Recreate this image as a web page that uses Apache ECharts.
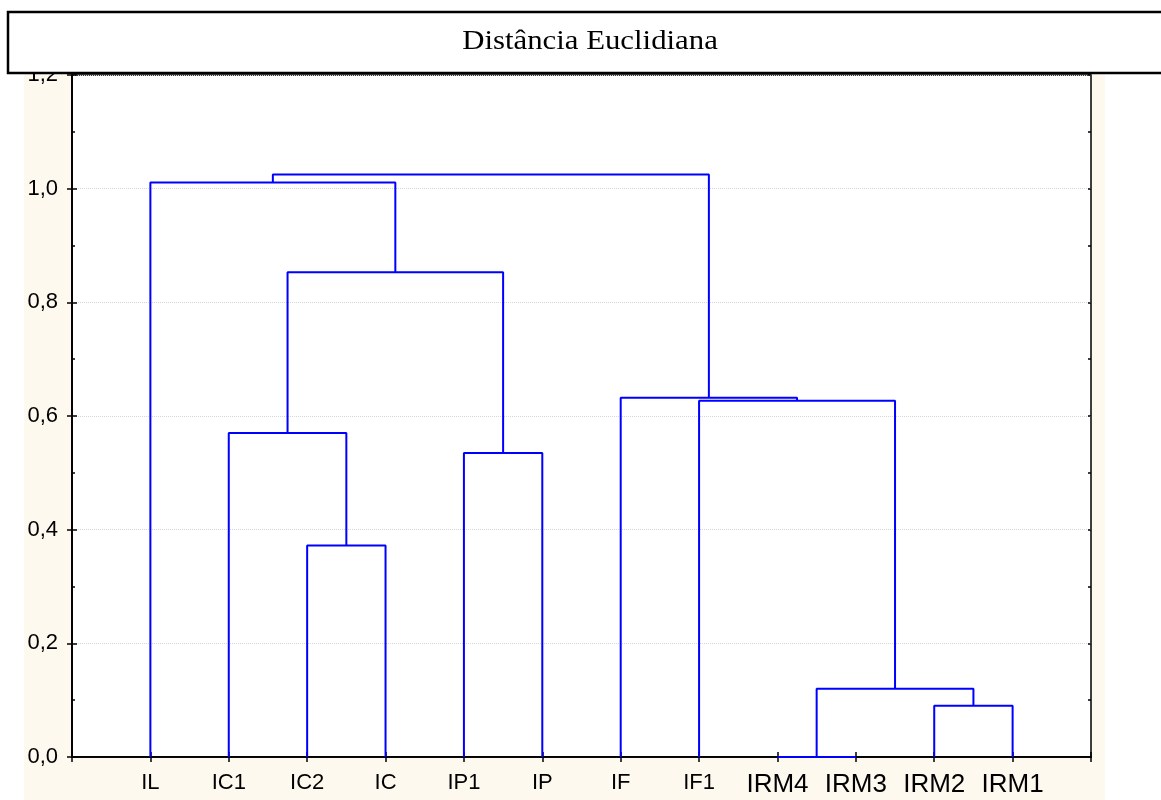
<!DOCTYPE html>
<html>
<head>
<meta charset="utf-8">
<script src="https://cdn.jsdelivr.net/npm/echarts@6/dist/echarts.min.js"></script>
<style>
  html, body { margin: 0; padding: 0; background: #fff; }
  #chart { width: 1161px; height: 800px; }
</style>
</head>
<body>
<div id="chart"></div>
<script>
// leaves in the order they appear on the axis
var leaves = ['IL', 'IC1', 'IC2', 'IC', 'IP1', 'IP', 'IF', 'IF1', 'IRM4', 'IRM3', 'IRM2', 'IRM1'];
// merges: child A, child B (leaf index, or 12+ for earlier merge), height
var mergeA = [8, 10, 2, 4, 1, 12, 7, 6, 16, 0, 21];
var mergeB = [9, 11, 3, 5, 14, 13, 17, 18, 15, 20, 19];
var mergeH = [0.0, 0.09, 0.372, 0.535, 0.570, 0.12, 0.627, 0.632, 0.853, 1.011, 1.025];

var chart = echarts.init(document.getElementById('chart'));

// x position and height of every node (leaf i sits at i+1)
var nodeX = [], nodeH = [];
for (var i = 0; i < leaves.length; i++) {
  nodeX.push(i + 1);
  nodeH.push(0);
}
var series = [];
for (var m = 0; m < mergeA.length; m++) {
  var a = mergeA[m], b = mergeB[m], h = mergeH[m];
  series.push({
    type: 'line',
    symbol: 'none',
    animation: false,
    lineStyle: { color: '#0000ff', width: 2 },
    data: [[nodeX[a], nodeH[a]], [nodeX[a], h], [nodeX[b], h], [nodeX[b], nodeH[b]]]
  });
  nodeX.push((nodeX[a] + nodeX[b]) / 2);
  nodeH.push(h);
}

function xLabel(v) {
  var name = leaves[Math.round(v) - 1];
  if (!name) return '';
  return name.indexOf('IRM') === 0 ? '{big|' + name + '}' : name;
}

var blackLine = { color: '#000', width: 1.5 };

// y axis: side, tick interval, tick length, labels
function yAx(pos, step, len, labels) {
  return {
    type: 'value', min: 0, max: 1.2, interval: step, position: pos,
    axisLine: { show: labels || step === 0.2, lineStyle: blackLine },
    axisTick: { show: true, inside: false, length: -len, lineStyle: blackLine },
    splitLine: { show: labels, lineStyle: { color: '#d8d8d8', type: 'dotted', width: 1 } },
    axisLabel: {
      show: labels, margin: 14, fontFamily: 'Liberation Sans', fontSize: 22, color: '#000',
      formatter: function (v) { return v.toFixed(1).replace('.', ','); }
    }
  };
}

var option = {
  backgroundColor: '#fff',
  animation: false,
  graphic: {
    elements: [
      { type: 'rect', z: -10, shape: { x: 24, y: 73, width: 1081, height: 727 }, style: { fill: '#fdf9ef' } },
      { type: 'rect', z: 100, shape: { x: 8, y: 12, width: 1170, height: 61 }, style: { fill: '#fff', stroke: '#000', lineWidth: 2.5 } },
      { type: 'text', z: 101, x: 590, y: 42, scaleX: 1.1,
        style: { text: 'Distância Euclidiana', font: '28px "Liberation Serif"', fill: '#000', textAlign: 'center', textVerticalAlign: 'middle' } }
    ]
  },
  grid: { left: 72, right: 70, top: 75, bottom: 43, show: true, backgroundColor: '#fff', borderColor: '#000', borderWidth: 1.5 },
  xAxis: [
    {
      type: 'value', min: 0, max: 13, interval: 1, position: 'bottom',
      axisLine: { lineStyle: blackLine },
      axisTick: { inside: false, length: -5, lineStyle: blackLine },
      splitLine: { show: false },
      axisLabel: {
        margin: 15, fontFamily: 'Liberation Sans', fontSize: 22, color: '#000', formatter: xLabel,
        rich: { big: { fontFamily: 'Liberation Sans', fontSize: 26, color: '#000' } }
      }
    },
    {
      type: 'value', min: 0, max: 13, interval: 1, position: 'top',
      axisLine: { lineStyle: blackLine },
      axisTick: { inside: false, length: -5, lineStyle: blackLine },
      axisLabel: { show: false },
      splitLine: { show: false }
    }
  ],
  yAxis: [
    yAx('left', 0.2, 5, true),
    yAx('right', 0.2, 5, false),
    yAx('left', 0.1, 3, false),
    yAx('right', 0.1, 3, false)
  ],
  series: series
};
chart.setOption(option);
</script>
</body>
</html>
